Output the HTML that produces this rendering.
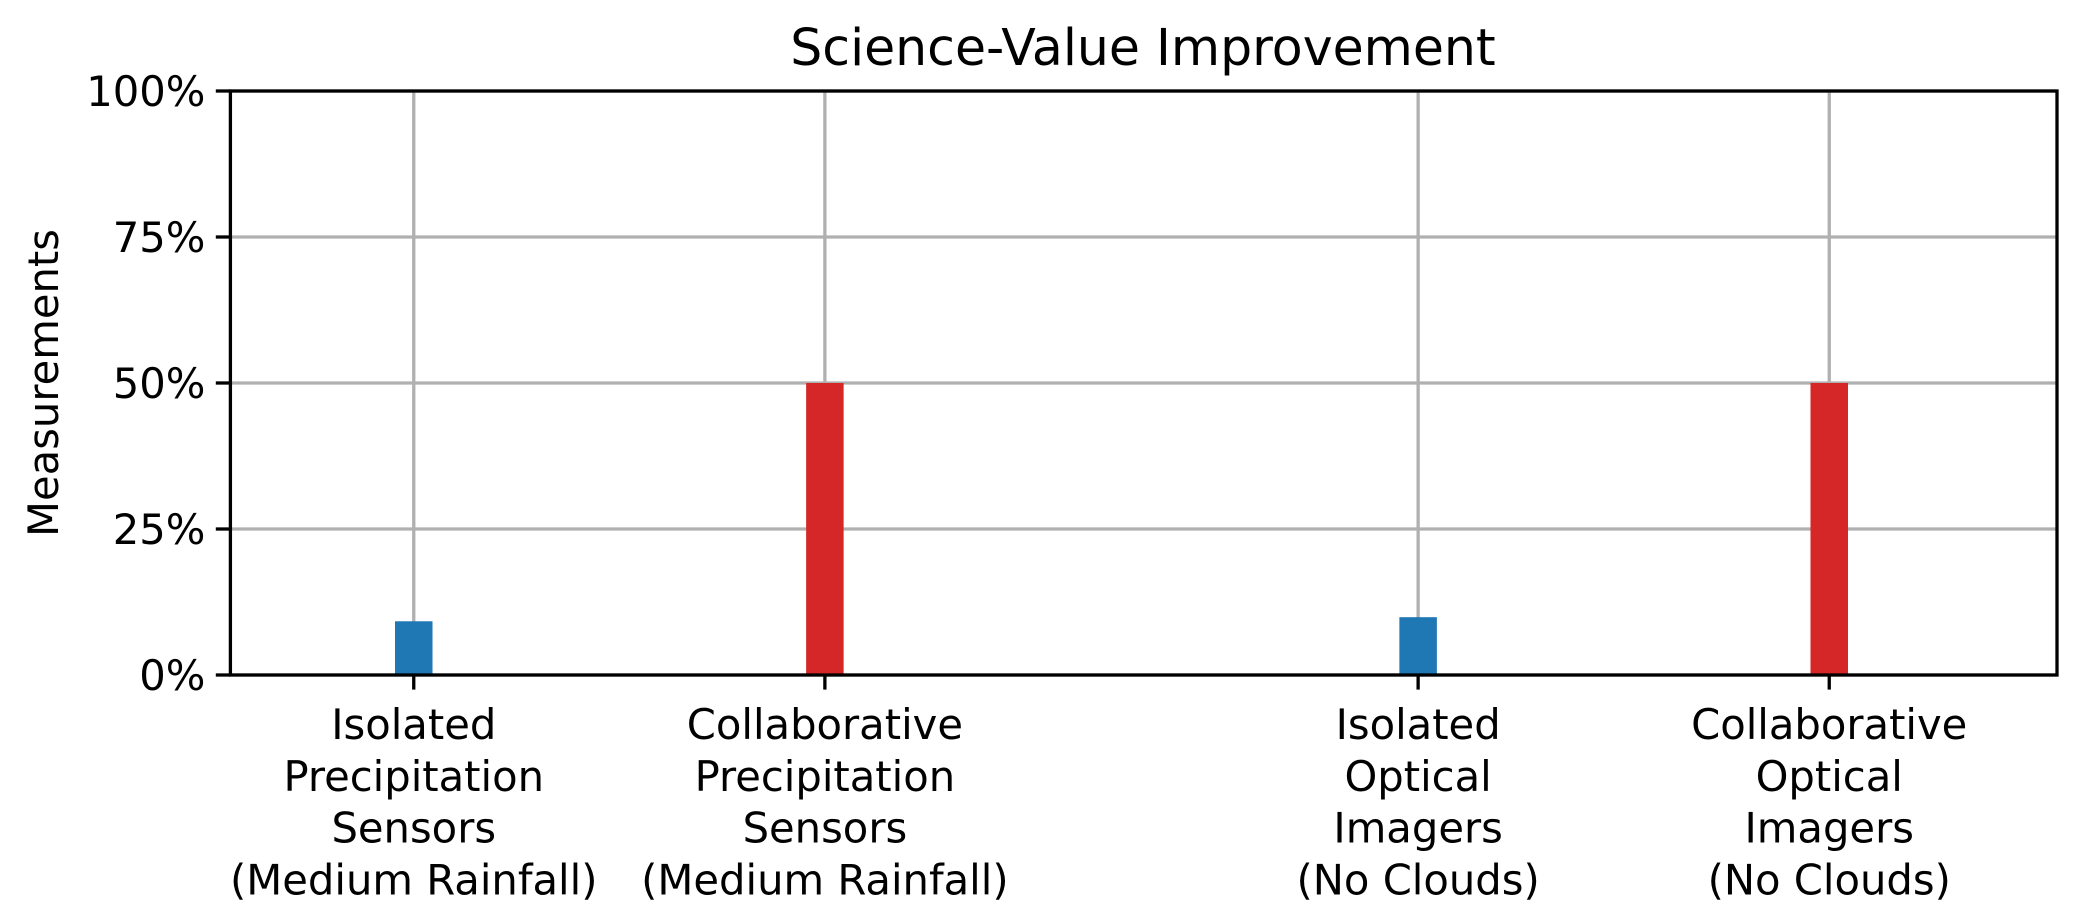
<!DOCTYPE html>
<html><head><meta charset="utf-8"><style>
html,body{margin:0;padding:0;background:#fff}
svg{display:block;font-family:"DejaVu Sans","Liberation Sans",sans-serif}
</style></head><body>
<svg id="chart" width="2100" height="900" viewBox="0 0 2100 900" xmlns="http://www.w3.org/2000/svg">
<rect width="2100" height="900" fill="#fff"/>
<text x="1143" y="65" font-size="50.5" text-anchor="middle">Science-Value Improvement</text>
<text transform="translate(58,383) rotate(-90)" font-size="41.7" text-anchor="middle">Measurements</text>
<g id="grid"></g><g id="bars"></g><g id="axes"></g>
</svg>
<script>
const categories = [
  ["Isolated","Precipitation","Sensors","(Medium Rainfall)"],
  ["Collaborative","Precipitation","Sensors","(Medium Rainfall)"],
  ["Isolated","Optical","Imagers","(No Clouds)"],
  ["Collaborative","Optical","Imagers","(No Clouds)"]
];
const xPositions = [0, 1, 2.443, 3.443];
const values = [9.2, 50, 9.9, 50];
const colors = ["#1f77b4","#d62728","#1f77b4","#d62728"];
const yTicks = [0, 25, 50, 75, 100];
const yTickLabels = ["0%","25%","50%","75%","100%"];

const L=230.4, R=2057, T=91, B=675;
const xMin=-0.446, xMax=3.997;
const sx = v => L + (v - xMin) / (xMax - xMin) * (R - L);
const sy = v => B - v / 100 * (B - T);
const NS="http://www.w3.org/2000/svg";
function mk(tag, attrs, parent){const e=document.createElementNS(NS,tag);for(const k in attrs)e.setAttribute(k,attrs[k]);parent.appendChild(e);return e;}
const grid=document.getElementById('grid'), bars=document.getElementById('bars'), axes=document.getElementById('axes');

yTicks.forEach((t,i)=>{
  const g=mk('line',{x1:L,x2:R,y1:sy(t),y2:sy(t),stroke:'#b0b0b0','stroke-width':3.3},grid);
  
  
  const tk=mk('line',{x1:L-14.6,x2:L,y1:sy(t),y2:sy(t),stroke:'#000','stroke-width':3.3},axes);
  
  
  const lb=mk('text',{x:L-25,y:sy(t)+15,'font-size':41.7,'text-anchor':'end'},axes);
  lb.textContent=yTickLabels[i];
  
  
});
xPositions.forEach((p,i)=>{
  const x=sx(p);
  const g=mk('line',{x1:x,x2:x,y1:T,y2:B,stroke:'#b0b0b0','stroke-width':3.3},grid);
  
  
  const bw=37.5;
  const b=mk('rect',{x:x-bw/2,y:sy(values[i]),width:bw,height:B-sy(values[i]),fill:colors[i]},bars);
  
  
  const tk=mk('line',{x1:x,x2:x,y1:B,y2:B+14.6,stroke:'#000','stroke-width':3.3},axes);
  
  
  const lb=mk('text',{x:x,y:739,'font-size':41.7,'text-anchor':'middle'},axes);
  
  
  categories[i].forEach((line,j)=>{const ts=mk('tspan',{x:x,y:739+j*51.8},lb);ts.textContent=line;});
});
const fr=mk('rect',{x:L,y:T,width:R-L,height:B-T,fill:'none',stroke:'#000','stroke-width':3.3},axes);


</script>
</body></html>
